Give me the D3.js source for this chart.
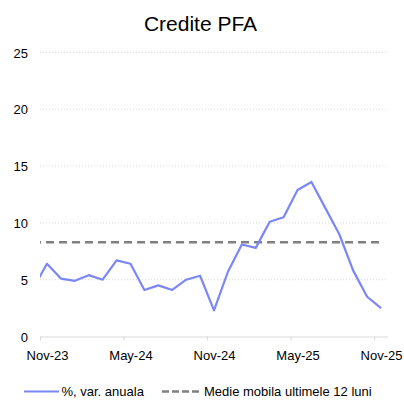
<!DOCTYPE html>
<html>
<head>
<meta charset="utf-8">
<script src="https://cdn.jsdelivr.net/npm/d3@7"></script>
<style>
  body { margin: 0; background: #fff; }
  svg { font-family: "Liberation Sans", Arial, sans-serif; }
  .axis text { font-size: 13px; fill: #000; }
</style>
</head>
<body>
<div id="chart"></div>
<script>
// data: monthly values (first month sits just left of the plot and gets clipped)
var months = ["Oct-23", "Nov-23", "Dec-23", "Jan-24", "Feb-24", "Mar-24", "Apr-24", "May-24", "Jun-24",
  "Jul-24", "Aug-24", "Sep-24", "Oct-24", "Nov-24", "Dec-24", "Jan-25", "Feb-25", "Mar-25", "Apr-25",
  "May-25", "Jun-25", "Jul-25", "Aug-25", "Sep-25", "Oct-25", "Nov-25"];
var varAnuala = [4.2, 6.4, 5.1, 4.9, 5.4, 5.0, 6.7, 6.4, 4.1, 4.5, 4.1, 5.0, 5.35, 2.3, 5.7,
  8.1, 7.8, 10.1, 10.5, 12.9, 13.6, 11.3, 9.0, 5.8, 3.5, 2.5];
var medieMobila = [8.3, 8.3, 8.3, 8.3, 8.3, 8.3, 8.3, 8.3, 8.3, 8.3, 8.3, 8.3, 8.3, 8.3, 8.3,
  8.3, 8.3, 8.3, 8.3, 8.3, 8.3, 8.3, 8.3, 8.3, 8.3, 8.3];
var xLabels = ["Nov-23", "May-24", "Nov-24", "May-25", "Nov-25"];
var yTicks = [0, 5, 10, 15, 20, 25];

var svgWidth = 404;
var svgHeight = 400;
var margin = { top: 52.5, right: 16, bottom: 63.5, left: 40 };
var width = svgWidth - margin.left - margin.right;
var height = svgHeight - margin.top - margin.bottom;

var svg = d3.select("#chart").append("svg").attr("width", svgWidth).attr("height", svgHeight);

// title
svg.append("text").attr("x", 200.5).attr("y", 30.5).attr("text-anchor", "middle")
  .style("font-size", "21px").text("Credite PFA");

var chartGroup = svg.append("g").attr("transform", `translate(${margin.left}, ${margin.top})`);

// x: category boundaries on integers, Nov-23 starts at 0
var xScale = d3.scaleLinear().domain([0, 25]).range([0, width]);
var yScale = d3.scaleLinear().domain([0, 25]).range([height, 0]);
var xPos = function(i) { return xScale(i - 0.5); };

// dotted gridlines
chartGroup.append("g").selectAll("line").data(yTicks.filter(d => d > 0)).enter().append("line")
  .attr("x1", 0).attr("x2", width)
  .attr("y1", d => yScale(d)).attr("y2", d => yScale(d))
  .attr("stroke", "#d9d9d9").attr("stroke-width", 1).attr("stroke-dasharray", "1,2");

// y axis labels
var leftAxis = d3.axisLeft(yScale).tickValues(yTicks).tickSize(0).tickPadding(12);
chartGroup.append("g").attr("class", "axis").call(leftAxis)
  .call(g => g.select(".domain").remove())
  .selectAll("text").attr("dy", "0.36em");

// x axis line and tick marks between categories
var tickAxis = d3.axisBottom(xScale).tickValues([0, 6, 12, 18, 24]).tickSize(4).tickFormat("");
chartGroup.append("g").attr("transform", `translate(0, ${height})`).call(tickAxis)
  .call(g => g.select(".domain").attr("stroke", "#d9d9d9").attr("d", `M0,0.5H${width}`))
  .call(g => g.selectAll(".tick line").attr("stroke", "#d9d9d9"));

// x labels centred on categories
var labelIdx = xLabels.map(l => months.indexOf(l));
var labelAxis = d3.axisBottom(xScale).tickValues(labelIdx.map(i => i - 0.5)).tickSize(0).tickPadding(14)
  .tickFormat((d, i) => xLabels[i]);
chartGroup.append("g").attr("class", "axis").attr("transform", `translate(0, ${height})`).call(labelAxis)
  .call(g => g.select(".domain").remove());

// clip lines to plot area
chartGroup.append("clipPath").attr("id", "plot-clip").append("rect")
  .attr("x", 0).attr("y", -5).attr("width", width).attr("height", height + 5);

var line = d3.line().x((d, i) => xPos(i)).y(d => yScale(d));

chartGroup.append("path").datum(medieMobila).attr("clip-path", "url(#plot-clip)")
  .attr("d", line).attr("fill", "none").attr("stroke", "#808080")
  .attr("stroke-width", 2.5).attr("stroke-dasharray", "8,5");

chartGroup.append("path").datum(varAnuala).attr("clip-path", "url(#plot-clip)")
  .attr("d", line).attr("fill", "none").attr("stroke", "#7b87f6")
  .attr("stroke-width", 2.2).attr("stroke-linejoin", "round");

// legend
var legend = svg.append("g").style("font-size", "13px");
legend.append("line").attr("x1", 24).attr("x2", 59).attr("y1", 391.5).attr("y2", 391.5)
  .attr("stroke", "#7b87f6").attr("stroke-width", 2.2);
legend.append("text").attr("x", 61.5).attr("y", 396).text("%, var. anuala");
legend.append("line").attr("x1", 162).attr("x2", 200).attr("y1", 391.5).attr("y2", 391.5)
  .attr("stroke", "#808080").attr("stroke-width", 2.5).attr("stroke-dasharray", "7,3");
legend.append("text").attr("x", 204).attr("y", 396).text("Medie mobila ultimele 12 luni");
</script>
</body>
</html>
